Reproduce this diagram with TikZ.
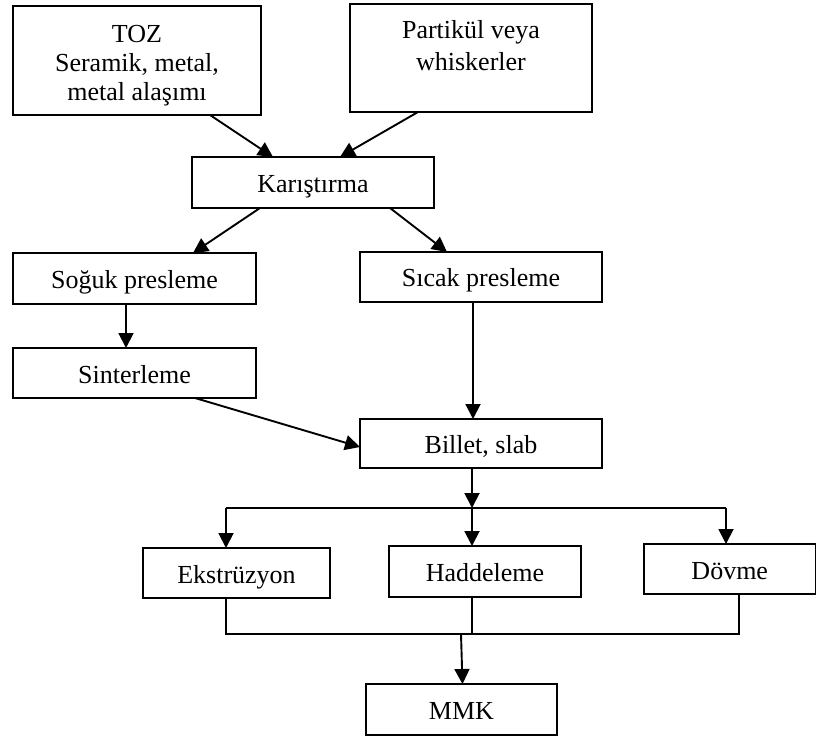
\documentclass[tikz,border=0pt]{standalone}
\usepackage{fontspec}
\setmainfont{Liberation Serif}
\usetikzlibrary{arrows.meta}
\begin{document}
\begin{tikzpicture}[x=1pt,y=-1pt, line width=1.9pt,
  box/.style={draw, rectangle, inner sep=0pt, outer sep=0pt, font=\fontsize{26}{29}\selectfont},
  onebox/.style={box, text height=22.5pt, text depth=2.5pt},
  arr/.style={-{Triangle[length=15pt,width=15pt]}}]
\useasboundingbox (0,0) rectangle (817,738);

\node[box, minimum width=248pt, minimum height=109pt] (toz) at (137,60.5)
  {\parbox[c][109pt][t]{248pt}{\centering\baselineskip=29.2pt\rule{0pt}{36.5pt}TOZ\\Seramik, metal,\\metal alaşımı}};
\node[box, minimum width=242pt, minimum height=108pt] (part) at (471,58)
  {\parbox[c][108pt][t]{242pt}{\centering\baselineskip=32pt\rule{0pt}{35pt}Partikül veya\\whiskerler}};
\node[onebox, minimum width=242pt, minimum height=51pt] (kar) at (313,182.5) {Karıştırma};
\node[onebox, minimum width=243pt, minimum height=51pt] (sog) at (134.5,278.5) {Soğuk presleme};
\node[onebox, minimum width=242pt, minimum height=50pt] (sic) at (481,277) {Sıcak presleme};
\node[onebox, minimum width=243pt, minimum height=50pt] (sin) at (134.5,373) {Sinterleme};
\node[onebox, minimum width=242pt, minimum height=49pt] (bil) at (481,443.5) {Billet, slab};
\node[onebox, minimum width=187pt, minimum height=50pt] (eks) at (236.5,573) {Ekstrüzyon};
\node[onebox, minimum width=192pt, minimum height=51pt] (had) at (485,571.5) {Haddeleme};
\node[onebox, minimum width=171.5pt, minimum height=50pt] (dov) at (729.75,569) {Dövme};
\node[onebox, minimum width=191pt, minimum height=51pt] (mmk) at (461.5,709.5) {MMK};

% top arrows
\draw[arr] ([xshift=73pt]toz.south) -- ([xshift=-40pt]kar.north);
\draw[arr] ([xshift=-53pt]part.south) -- ([xshift=27pt]kar.north);
\draw[arr] ([xshift=-53pt]kar.south) -- ([xshift=58.5pt]sog.north);
\draw[arr] ([xshift=77pt]kar.south) -- ([xshift=-34pt]sic.north);
\draw[arr] ([xshift=-8.5pt]sog.south) -- ([xshift=-8.5pt]sin.north);
\draw[arr] ([xshift=-8pt]sic.south) -- ([xshift=-8pt]bil.north);
\draw[arr] ([xshift=60.5pt]sin.south) -- ([yshift=-3.5pt]bil.west);

% split
\coordinate (split) at (472,508);
\coordinate (bl) at (226,508);
\coordinate (br) at (726,508);
\draw[arr] (split |- bil.south) -- (split);
\draw (bl) -- (br);
\draw[arr] (bl) -- (bl |- eks.north);
\draw[arr] (split) -- (split |- had.north);
\draw[arr] (br) -- (br |- dov.north);

% merge
\coordinate (ml) at (226,634);
\coordinate (mh) at (472,634);
\coordinate (mr) at (739,634);
\coordinate (mm) at (461,634);
\draw (ml |- eks.south) -- (ml) -- (mr) -- (mr |- dov.south);
\draw (mh |- had.south) -- (mh);
\draw[arr] (mm) -- ([xshift=1pt]mmk.north);
\end{tikzpicture}
\end{document}
